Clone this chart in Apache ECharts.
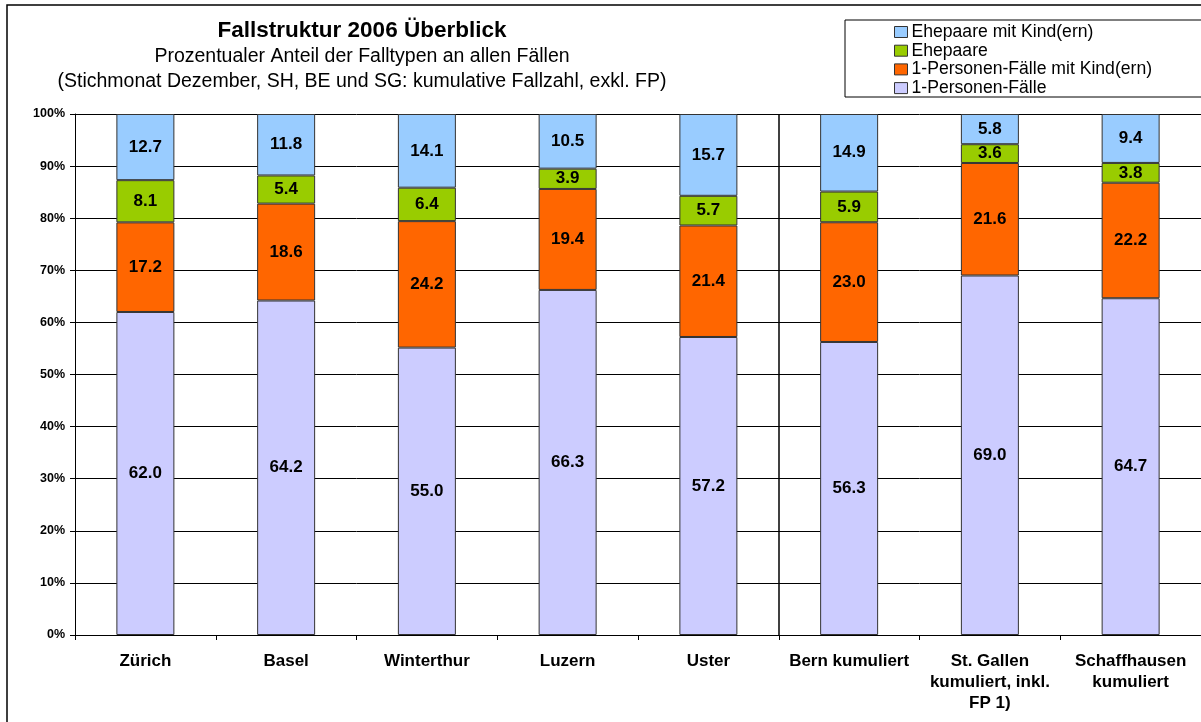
<!DOCTYPE html>
<html>
<head>
<meta charset="utf-8">
<script src="https://cdn.jsdelivr.net/npm/echarts@6/dist/echarts.min.js"></script>
<style>
  html, body { margin: 0; padding: 0; background: #fff; }
  #chart { width: 1201px; height: 722px; }
</style>
</head>
<body>
<div id="chart"></div>
<script>
var staedte = ["Zürich", "Basel", "Winterthur", "Luzern", "Uster", "Bern kumuliert",
    "St. Gallen\nkumuliert, inkl.\nFP 1)", "Schaffhausen\nkumuliert"];

// Werte in Prozent, von unten nach oben gestapelt
var einPers = [62.0, 64.2, 55.0, 66.3, 57.2, 56.3, 69.0, 64.7];
var einPersKind = [17.2, 18.6, 24.2, 19.4, 21.4, 23.0, 21.6, 22.2];
var ehepaare = [8.1, 5.4, 6.4, 3.9, 5.7, 5.9, 3.6, 3.8];
var ehepaareKind = [12.7, 11.8, 14.1, 10.5, 15.7, 14.9, 5.8, 9.4];

var yTicks = [0, 10, 20, 30, 40, 50, 60, 70, 80, 90, 100];
// Trennlinie zwischen Uster und Bern (Kategoriegrenze)
var trennung = 5;

var font = "'Liberation Sans', Arial, sans-serif";

// 100%-Stapel: jede Säule auf ihre Summe normieren, Label zeigt den Originalwert
function norm(arr) {
    var res = [];
    for (var i = 0; i < arr.length; i++) {
        var s = einPers[i] + einPersKind[i] + ehepaare[i] + ehepaareKind[i];
        res.push({ value: arr[i] / s * 100, raw: arr[i] });
    }
    return res;
}

function serie(name, arr, color) {
    return {
        name: name,
        type: "bar",
        stack: "total",
        barWidth: 58,
        data: norm(arr),
        itemStyle: { color: color, borderColor: "#333", borderWidth: 1 },
        label: {
            show: true,
            position: "inside",
            color: "#000",
            fontFamily: font,
            fontWeight: "bold",
            fontSize: 17,
            formatter: function (p) { return p.data.raw.toFixed(1); }
        },
        emphasis: { disabled: true }
    };
}

var chart = echarts.init(document.getElementById("chart"), null, { renderer: "canvas" });

chart.setOption({
    animation: false,
    backgroundColor: "#fff",
    title: {
        text: "Fallstruktur 2006 Überblick",
        subtext: "Prozentualer Anteil der Falltypen an allen Fällen\n(Stichmonat Dezember, SH, BE und SG: kumulative Fallzahl, exkl. FP)",
        left: 362,
        textAlign: "center",
        top: 19,
        padding: 0,
        itemGap: 1,
        textStyle: { fontFamily: font, fontWeight: "bold", fontSize: 22.5, lineHeight: 24, color: "#000" },
        subtextStyle: { fontFamily: font, fontSize: 19.5, color: "#000", lineHeight: 25.4 }
    },
    legend: {
        orient: "vertical",
        left: 894,
        top: 23,
        padding: 0,
        itemWidth: 13,
        itemHeight: 11,
        itemGap: 0.7,
        icon: "rect",
        selectedMode: false,
        data: ["Ehepaare mit Kind(ern)", "Ehepaare", "1-Personen-Fälle mit Kind(ern)", "1-Personen-Fälle"],
        textStyle: { fontFamily: font, fontSize: 17.6, lineHeight: 17.6, color: "#000", padding: [0, 0, 0, -1] },
        itemStyle: { borderColor: "#333", borderWidth: 1 }
    },
    graphic: [
        { type: "rect", shape: { x: 7, y: 5, width: 1300, height: 800 }, style: { fill: null, stroke: "#000", lineWidth: 1.5 }, z: -1 },
        { type: "rect", shape: { x: 845, y: 20, width: 400, height: 77 }, style: { fill: "#fff", stroke: "#000", lineWidth: 1 }, z: 0 }
    ],
    grid: { left: 75, top: 114, width: 1129, height: 521 },
    xAxis: [{
        type: "category",
        data: staedte,
        axisLine: { lineStyle: { color: "#000", width: 1 } },
        axisTick: { show: true, length: 5, lineStyle: { color: "#000" } },
        axisLabel: {
            interval: 0,
            margin: 16,
            color: "#000",
            fontFamily: font,
            fontWeight: "bold",
            fontSize: 17,
            lineHeight: 21
        }
    }, {
        // unsichtbare Hilfsachse für die Trennlinie
        type: "value",
        min: 0,
        max: staedte.length,
        show: false
    }],
    yAxis: {
        type: "value",
        min: yTicks[0],
        max: yTicks[yTicks.length - 1],
        interval: 10,
        axisLine: { show: true, lineStyle: { color: "#000" } },
        axisTick: { show: true, length: 5, lineStyle: { color: "#000" } },
        axisLabel: {
            color: "#000",
            fontFamily: font,
            fontWeight: "bold",
            fontSize: 12.5,
            margin: 10,
            formatter: "{value}%"
        },
        splitLine: { show: true, lineStyle: { color: "#000", width: 1 } }
    },
    series: [
        serie("1-Personen-Fälle", einPers, "#CCCCFF"),
        serie("1-Personen-Fälle mit Kind(ern)", einPersKind, "#FF6600"),
        serie("Ehepaare", ehepaare, "#99CC00"),
        serie("Ehepaare mit Kind(ern)", ehepaareKind, "#99CCFF"),
        {
            name: "trennung",
            type: "line",
            xAxisIndex: 1,
            data: [],
            markLine: {
                silent: true,
                symbol: "none",
                label: { show: false },
                lineStyle: { color: "#000", type: "solid", width: 1.5 },
                data: [{ xAxis: trennung }]
            }
        }
    ]
});
</script>
</body>
</html>
